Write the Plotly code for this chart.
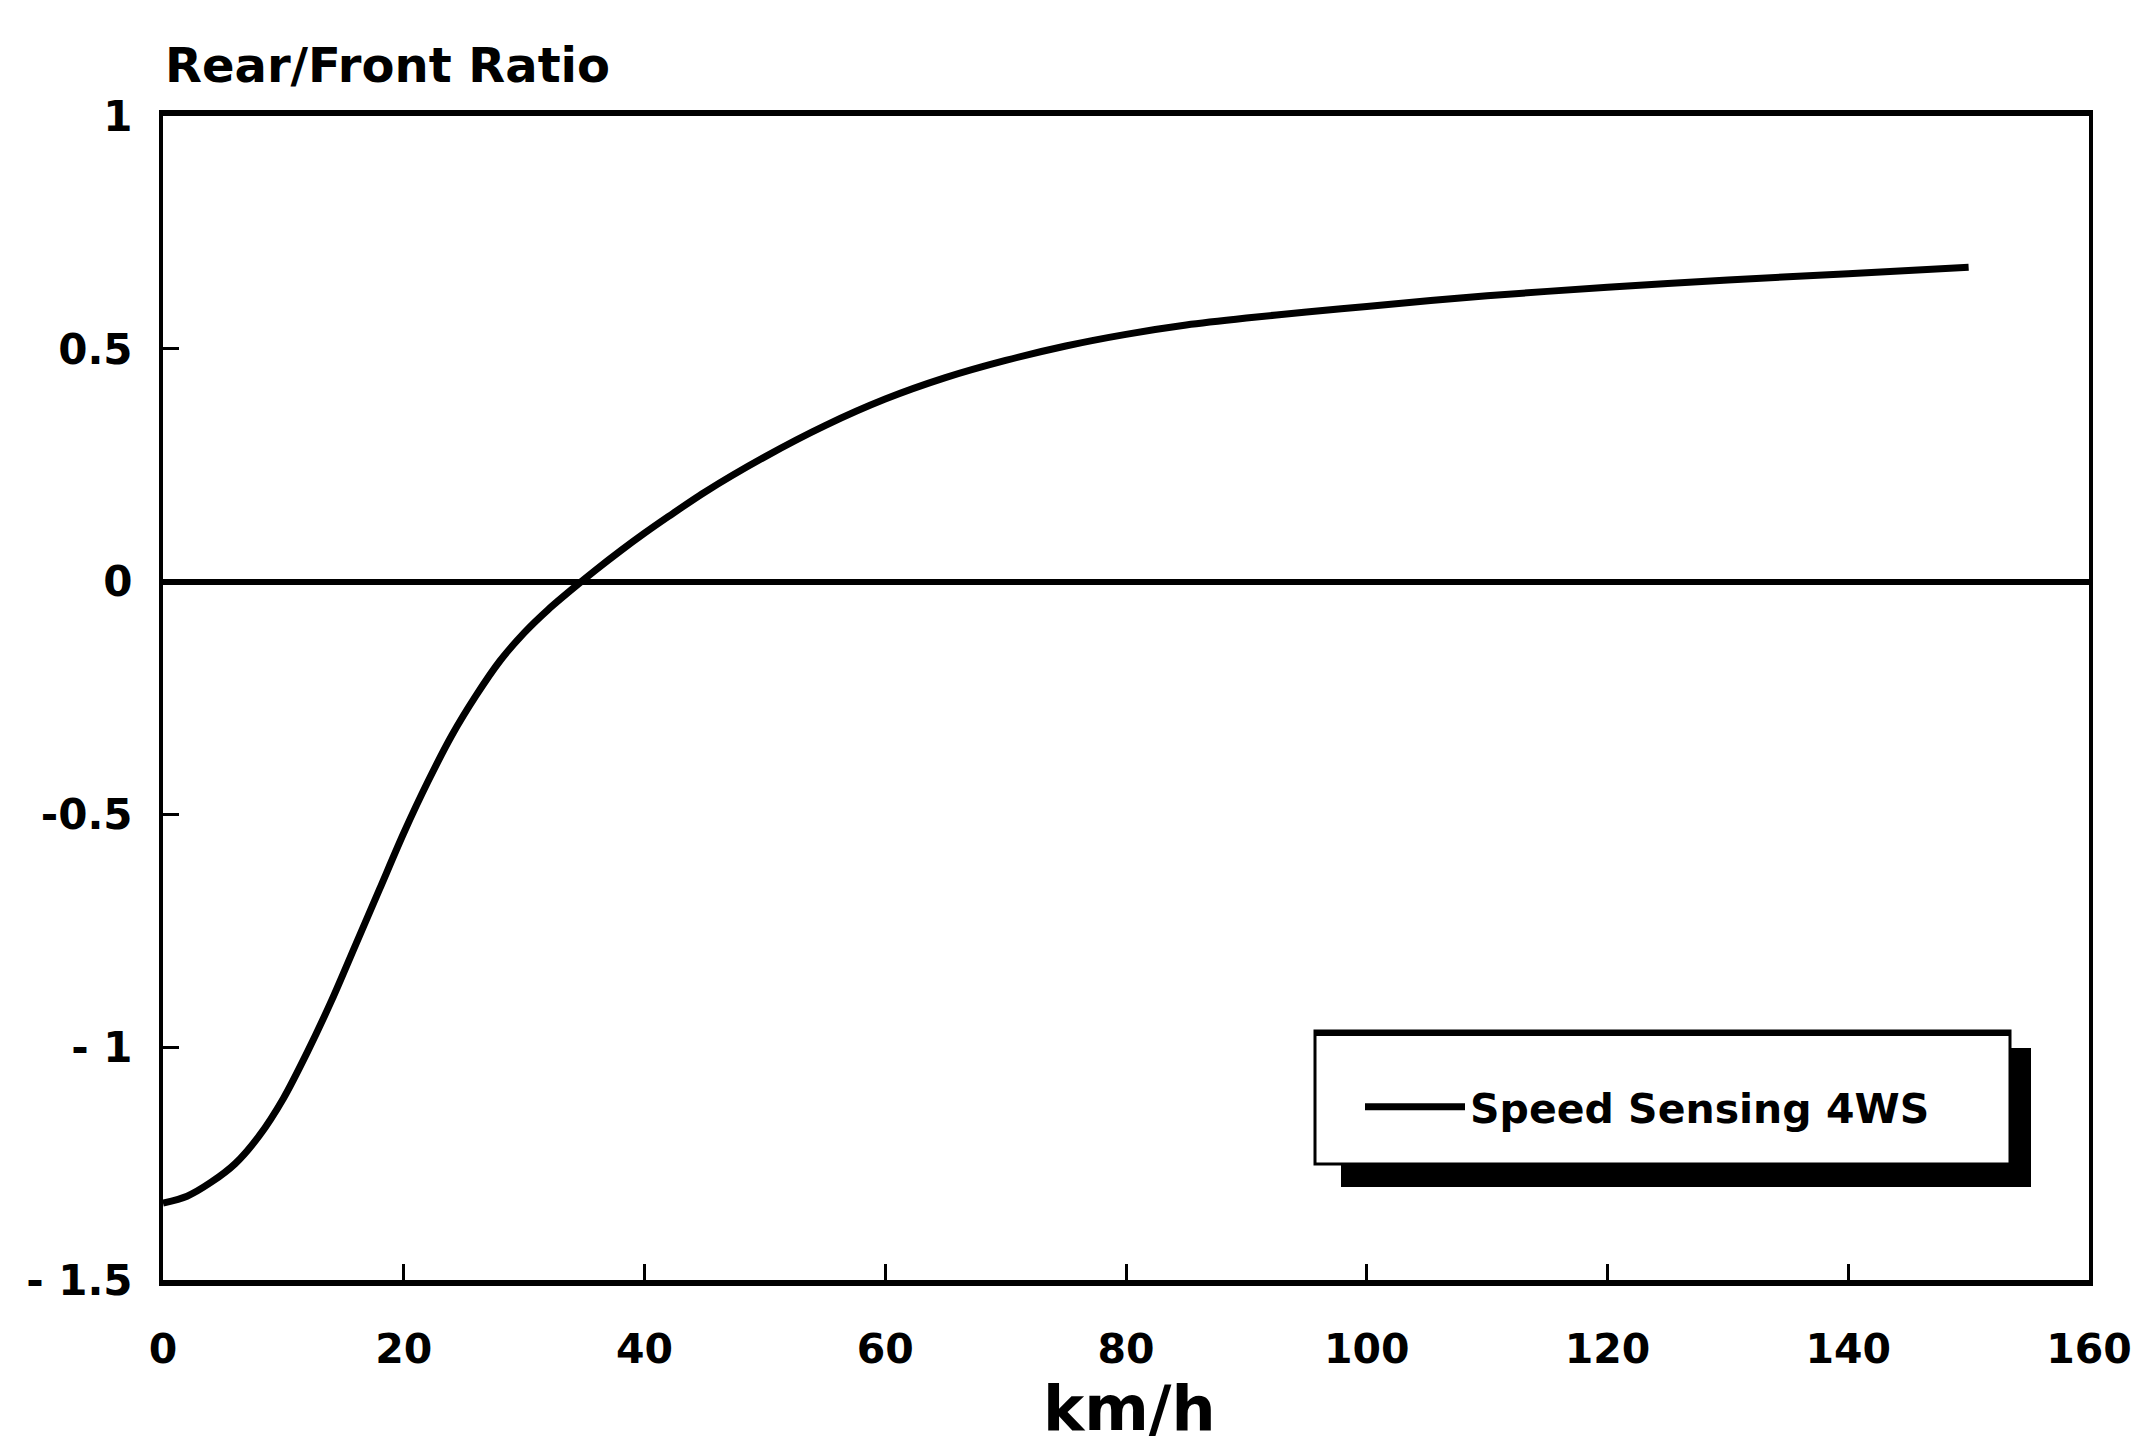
import plotly.graph_objects as go

speed_kmh = [0, 2, 4, 6, 8, 10, 12, 14, 16, 18, 20, 22, 24, 26, 28, 30, 32, 34, 36,
             38, 40, 42, 45, 50, 55, 60, 65, 70, 75, 80, 85, 90, 95, 100, 110, 120,
             130, 140, 150]
rear_front_ratio = [-1.335, -1.32, -1.29, -1.25, -1.19, -1.11, -1.01, -0.90, -0.78, -0.66,
                    -0.54, -0.43, -0.33, -0.245, -0.17, -0.11, -0.06, -0.016, 0.026,
                    0.066, 0.104, 0.14, 0.192, 0.268, 0.335, 0.392, 0.438, 0.475, 0.506, 0.531,
                    0.551, 0.566, 0.579, 0.591, 0.614, 0.632, 0.648, 0.661, 0.675]
series_name = "Speed Sensing 4WS"
x_ticks = [0, 20, 40, 60, 80, 100, 120, 140, 160]
y_ticks = [1, 0.5, 0, -0.5, -1, -1.5]
y_tick_labels = ["1", "0.5", "0", "-0.5", "- 1", "- 1.5"]

FONT = "DejaVu Sans"
W, H = 2135, 1449
L, R, T, B = 163, 46, 116, 169
pw, ph = W - L - R, H - T - B

def px_x(p):
    return (p - L) / pw

def px_y(p):
    return (H - B - p) / ph

fig = go.Figure()
fig.add_trace(go.Scatter(x=speed_kmh, y=rear_front_ratio, mode="lines", name=series_name,
                         line=dict(color="black", width=7, shape="spline", smoothing=0.8),
                         showlegend=True))

shapes = []
# legend shadow
shapes.append(dict(type="rect", xref="paper", yref="paper", layer="above",
                   x0=px_x(1341), x1=px_x(2031), y0=px_y(1187), y1=px_y(1048),
                   fillcolor="black", line=dict(width=0)))
# legend box
shapes.append(dict(type="rect", xref="paper", yref="paper", layer="above",
                   x0=px_x(1315), x1=px_x(2010), y0=px_y(1164), y1=px_y(1031),
                   fillcolor="white", line=dict(color="black", width=3)))
shapes.append(dict(type="line", xref="paper", yref="paper", layer="above",
                   x0=px_x(1315), x1=px_x(2010), y0=px_y(1033), y1=px_y(1033),
                   line=dict(color="black", width=6)))

fig.update_layout(
    width=W, height=H,
    margin=dict(l=L, r=R, t=T, b=B, autoexpand=False),
    paper_bgcolor="white", plot_bgcolor="white",
    font=dict(family=FONT, color="black"),
    shapes=shapes,
    showlegend=True,
    legend=dict(x=px_x(1360), y=px_y(1107), xanchor="left", yanchor="middle",
                bgcolor="rgba(0,0,0,0)", borderwidth=0,
                font=dict(family=FONT, size=41, color="black", weight="bold"),
                itemwidth=100),
    xaxis=dict(range=[0, 160], tickvals=x_ticks, ticktext=[str(v) for v in x_ticks],
               automargin=False, ticklabeloverflow="allow",
               showgrid=False, zeroline=False, showline=True, linecolor="black",
               linewidth=6, mirror=True, ticks="inside", ticklen=16, tickwidth=3,
               tickcolor="black", ticklabelstandoff=28,
               tickfont=dict(family=FONT, size=41, color="black", weight="bold")),
    yaxis=dict(range=[-1.5, 1], tickvals=y_ticks, ticktext=y_tick_labels,
               automargin=False, ticklabeloverflow="allow",
               showgrid=False, zeroline=True, zerolinecolor="black", zerolinewidth=6,
               showline=True, linecolor="black", linewidth=4, mirror=True,
               ticks="inside", ticklen=16, tickwidth=3, tickcolor="black",
               ticklabelstandoff=18,
               tickfont=dict(family=FONT, size=42, color="black", weight="bold")),
    annotations=[
        dict(text="Rear/Front Ratio", xref="paper", yref="paper", x=0, y=px_y(65),
             xanchor="left", yanchor="middle", showarrow=False,
             font=dict(family=FONT, size=48, color="black", weight="bold")),
        dict(text="km/h", xref="paper", yref="paper", x=px_x(1129), y=px_y(1447),
             xanchor="center", yanchor="bottom", showarrow=False,
             font=dict(family=FONT, size=62, color="black", weight="bold")),
    ],
)

fig.write_html("out.html")
